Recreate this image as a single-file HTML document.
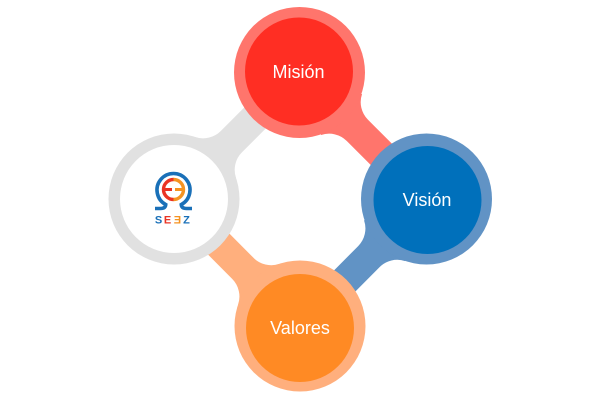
<!DOCTYPE html>
<html>
<head>
<meta charset="utf-8">
<style>
  html, body { margin: 0; padding: 0; background: #ffffff; }
  body { width: 600px; height: 400px; overflow: hidden; }
  svg { display: block; }
  .lbl { font-family: "Liberation Sans", "DejaVu Sans", sans-serif; font-size: 18px; fill: #ffffff; text-anchor: middle; }
  .logo { font-family: "Liberation Sans", "DejaVu Sans", sans-serif; font-size: 11px; font-weight: bold; text-anchor: middle; }
</style>
</head>
<body>
<svg width="600" height="400" viewBox="0 0 600 400" xmlns="http://www.w3.org/2000/svg">
  <rect width="600" height="400" fill="#ffffff"/>

  <!-- connectors -->
  <path fill="#ff756c" d="M 300 73 L 362.02 94.08 A 25 25 0 0 0 368.01 119.79 L 436.61 188.39 L 415.39 209.61 L 346.79 141.01 A 25 25 0 0 0 321.08 135.02 Z"/>
  <path fill="#6193c5" d="M 426 199 L 405.16 261.10 A 25 25 0 0 0 379.47 267.19 L 310.65 336.56 L 289.35 315.44 L 358.17 246.07 A 25 25 0 0 0 364.06 220.32 Z"/>
  <path fill="#ffaf7d" d="M 300 326 L 238.06 304.68 A 25 25 0 0 0 232.17 278.93 L 163.35 209.56 L 184.65 188.44 L 253.47 257.81 A 25 25 0 0 0 279.16 263.90 Z"/>
  <path fill="#e1e1e1" d="M 174 199 L 195.08 136.98 A 25 25 0 0 0 220.79 130.99 L 289.39 62.39 L 310.61 83.61 L 242.01 152.21 A 25 25 0 0 0 236.02 177.92 Z"/>

  <!-- Misión -->
  <circle cx="299.5" cy="72.5" r="65.5" fill="#ff756c"/>
  <circle cx="299" cy="71.5" r="54" fill="#ff2e23"/>
  <text class="lbl" x="298.5" y="78">Misión</text>

  <!-- Visión -->
  <circle cx="426.5" cy="199" r="65.5" fill="#6193c5"/>
  <circle cx="427.5" cy="200" r="54" fill="#0070bb"/>
  <text class="lbl" x="427" y="206">Visión</text>

  <!-- Valores -->
  <circle cx="300" cy="326" r="65.5" fill="#ffaf7d"/>
  <circle cx="300" cy="328" r="54" fill="#ff8a24"/>
  <text class="lbl" x="300" y="334">Valores</text>

  <!-- Gray logo circle -->
  <circle cx="174" cy="199" r="65.5" fill="#e1e1e1"/>
  <circle cx="174" cy="199" r="54" fill="#ffffff"/>

  <!-- logo: omega -->
  <path fill="none" stroke="#1a70b8" stroke-width="3.6" stroke-linecap="butt"
        d="M 155 208.5 L 160.5 208.5 Q 165.5 208.5 165.75 204.57 A 16.5 16.5 0 1 1 181.25 204.57 Q 181.5 208.5 186.5 208.5 L 192 208.5"/>
  <!-- red left half -->
  <path fill="none" stroke="#ea3424" stroke-width="3.4" d="M 173.5 179.5 A 10 10 0 0 0 173.5 199.5"/>
  <path fill="none" stroke="#ea3424" stroke-width="3" d="M 164 189.5 L 172 189.5"/>
  <!-- orange right half -->
  <path fill="none" stroke="#f59322" stroke-width="3.4" d="M 173.5 179.5 A 10 10 0 0 1 173.5 199.5"/>
  <path fill="none" stroke="#f59322" stroke-width="3" d="M 175 189.5 L 183 189.5"/>

  <!-- logo text -->
  <text class="logo" x="158.5" y="223.5" fill="#1a70b8">S</text>
  <text class="logo" x="167.5" y="223.5" fill="#ea3424">E</text>
  <text class="logo" x="177.5" y="223.5" fill="#f59322" transform="translate(355,0) scale(-1,1)">E</text>
  <text class="logo" x="186.5" y="223.5" fill="#1a70b8">Z</text>
</svg>
</body>
</html>
